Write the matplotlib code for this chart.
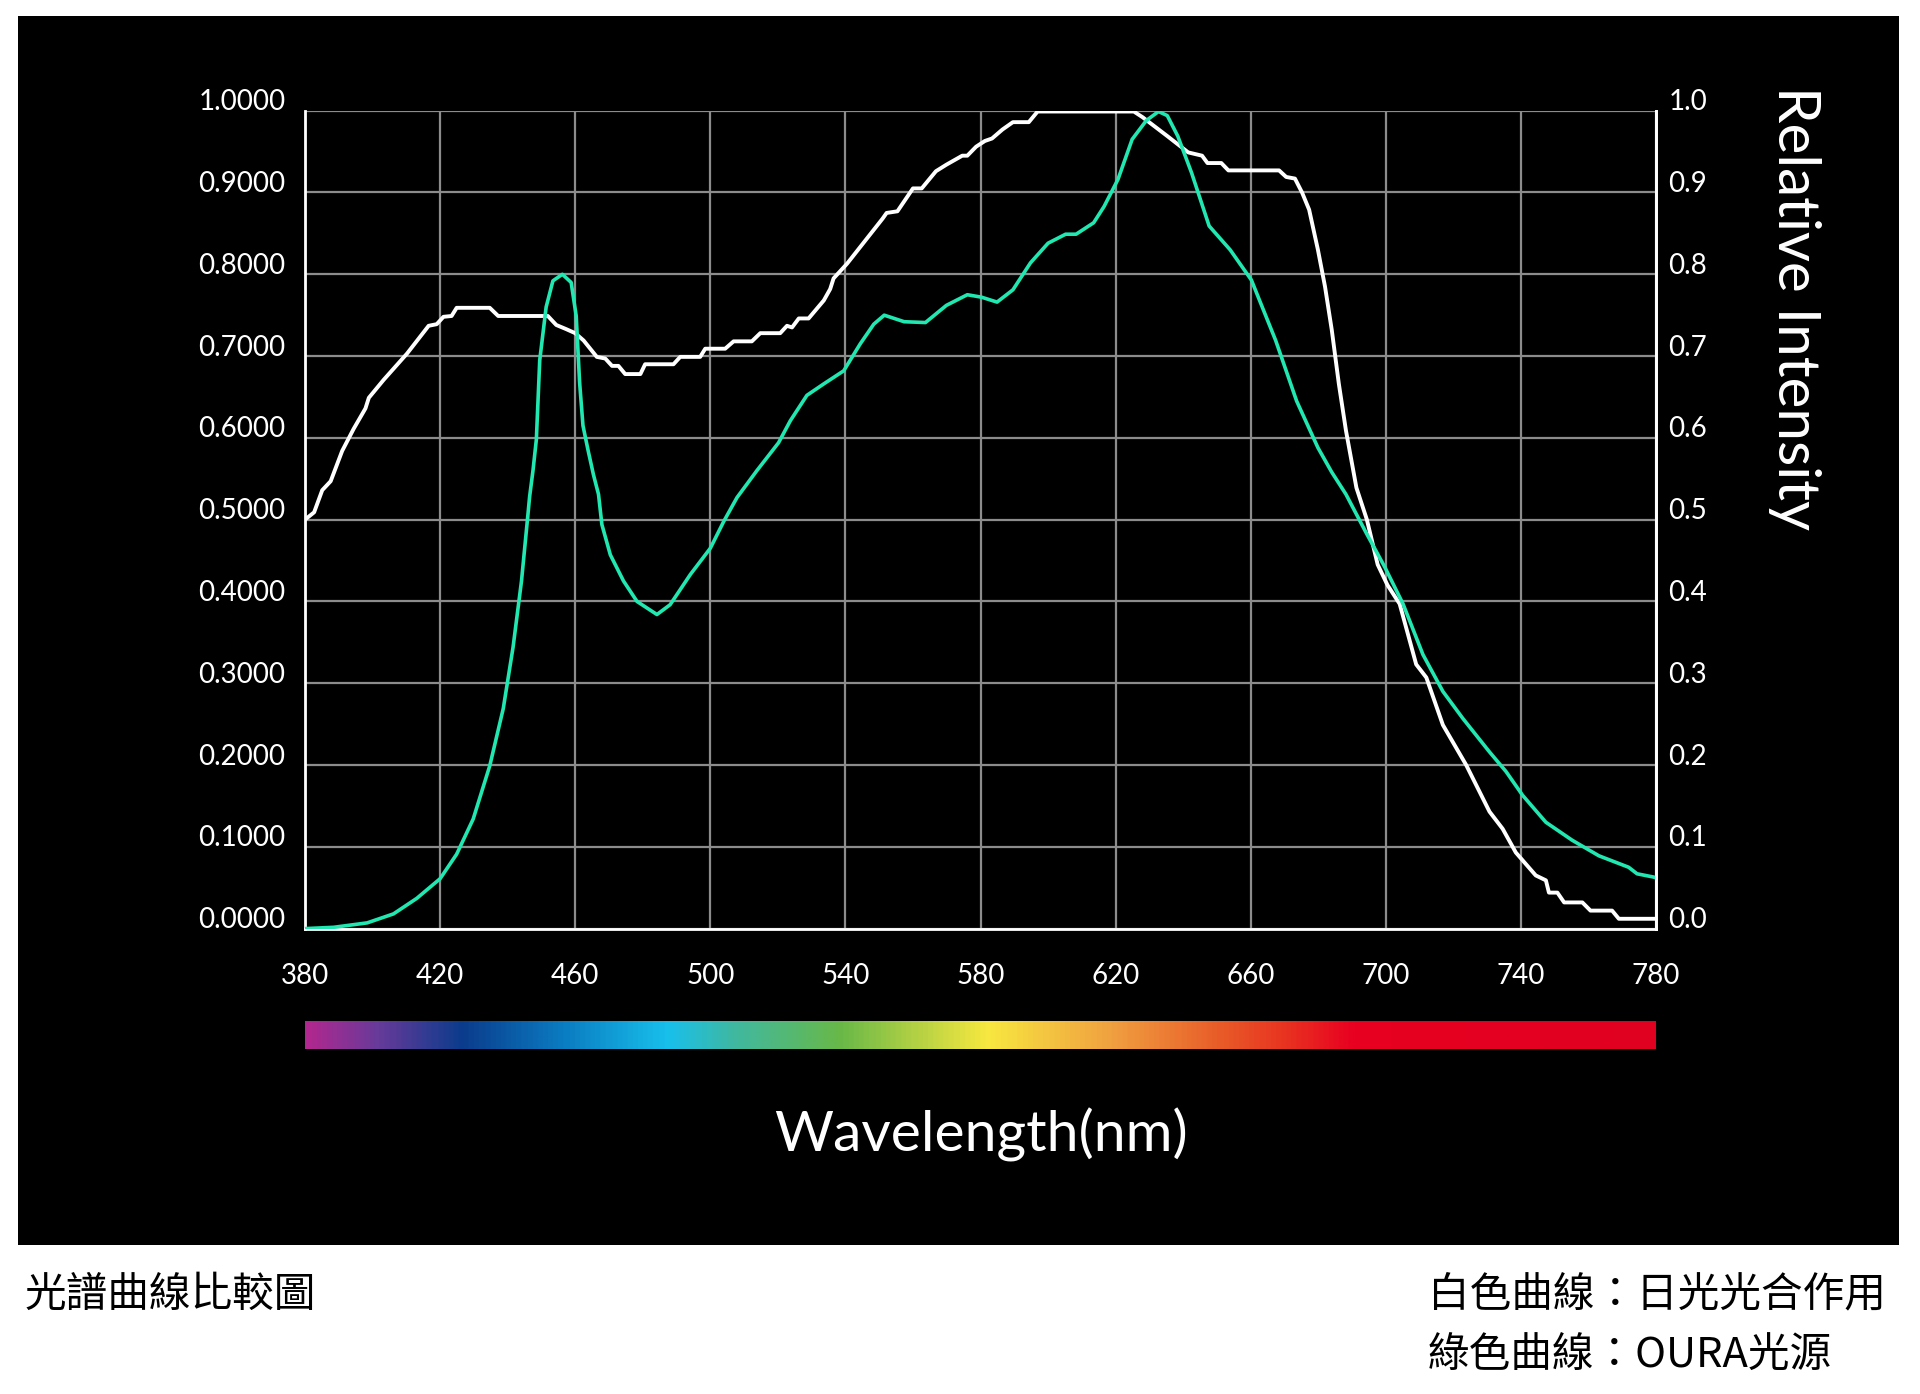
import matplotlib.pyplot as plt
import matplotlib.transforms as mtransforms
import numpy as np
from matplotlib.colors import LinearSegmentedColormap
from matplotlib.patches import Rectangle

plt.rcParams['font.family'] = ['Lato', 'Noto Sans CJK TC', 'DejaVu Sans']

# White curve: daylight photosynthesis action
white_nm = [380, 382.7, 385.1, 387.6, 391, 394.4, 397.9, 398.9, 403.3, 410.2,
            416.6, 419, 421, 423.4, 424.9, 434.7, 437.2, 451.9, 454.4, 457.3,
            460, 462.5, 466.4, 468.9, 470.9, 472.8, 474.8, 479.3, 480.7, 489.1,
            491.1, 497, 498.5, 504.4, 506.9, 512.3, 514.8, 520.7, 522.7, 524.2,
            526.2, 529.1, 533.6, 535.5, 536.5, 540.5, 551, 552.2, 555.4, 560,
            562.6, 566.8, 569.9, 574.6, 576.1, 578.7, 581.3, 583.4, 586.5, 589.6,
            594.3, 596.9, 625.4, 628, 635.3, 641.5, 645.6, 647.2, 651.3, 653.4,
            668.4, 670.5, 673.1, 675.2, 677.3, 679.9, 682, 684, 686.1, 688.2,
            691.3, 694.4, 697.6, 700.5, 704.1, 709, 712, 716.9, 723.8, 730.7,
            734.6, 738.5, 744.4, 747.4, 748.3, 750.8, 752.8, 758.2, 760.6, 767,
            769, 780]
white_val = [0.50, 0.509, 0.536, 0.547, 0.584, 0.611, 0.636, 0.649, 0.671, 0.703,
             0.737, 0.739, 0.748, 0.749, 0.759, 0.759, 0.749, 0.749, 0.738, 0.733,
             0.728, 0.719, 0.699, 0.697, 0.688, 0.688, 0.678, 0.678, 0.69, 0.69,
             0.699, 0.699, 0.709, 0.709, 0.718, 0.718, 0.728, 0.728, 0.737, 0.735,
             0.746, 0.746, 0.768, 0.782, 0.795, 0.813, 0.868, 0.875, 0.877, 0.905,
             0.905, 0.926, 0.934, 0.945, 0.945, 0.956, 0.963, 0.966, 0.977, 0.986,
             0.986, 0.999, 0.999, 0.992, 0.969, 0.949, 0.945, 0.936, 0.936, 0.927,
             0.927, 0.919, 0.917, 0.9, 0.879, 0.83, 0.785, 0.732, 0.666, 0.609,
             0.539, 0.50, 0.445, 0.42, 0.397, 0.323, 0.307, 0.249, 0.2, 0.143,
             0.122, 0.093, 0.065, 0.059, 0.044, 0.044, 0.032, 0.032, 0.022, 0.022,
             0.012, 0.012]

# Green curve: OURA light source
green_nm = [380, 388.5, 398.4, 406.2, 413.1, 420, 424.9, 429.8, 434.7, 438.7,
            441.6, 444.1, 446, 446.5, 447.5, 448.5, 449.5, 451.4, 453.4, 456.2,
            458.8, 460.3, 461.3, 462.3, 463.8, 465.4, 466.9, 467.9, 470.4, 474.3,
            478.3, 484.2, 488.1, 494.1, 500, 504, 507.9, 513.8, 520.2, 523.7,
            528.6, 533.6, 539.5, 544.4, 548.4, 551.5, 557.4, 563.7, 569.9, 576.1,
            580.3, 584.9, 589.6, 594.8, 600, 605.2, 608.3, 613.5, 616.6, 620.7,
            624.9, 629.1, 632.7, 635.3, 638.4, 642.5, 647.7, 653.9, 660.2, 667.4,
            673.6, 679.9, 684, 688.2, 694.3, 699.7, 705.1, 711, 716.9, 722.8,
            730.7, 735.6, 740.5, 747.4, 755.2, 763.1, 771.9, 774.4, 779.3, 780]
green_val = [0.0, 0.0016, 0.007, 0.018, 0.037, 0.061, 0.091, 0.134, 0.199, 0.269,
             0.344, 0.425, 0.506, 0.528, 0.56, 0.598, 0.695, 0.76, 0.792, 0.80,
             0.79, 0.749, 0.668, 0.615, 0.585, 0.555, 0.531, 0.494, 0.457, 0.425,
             0.40, 0.384, 0.396, 0.433, 0.465, 0.498, 0.527, 0.56, 0.594, 0.621,
             0.652, 0.666, 0.682, 0.715, 0.739, 0.75, 0.742, 0.741, 0.762, 0.775,
             0.772, 0.766, 0.781, 0.814, 0.838, 0.849, 0.849, 0.863, 0.883, 0.916,
             0.965, 0.988, 0.999, 0.994, 0.969, 0.924, 0.859, 0.83, 0.793, 0.719,
             0.645, 0.588, 0.558, 0.531, 0.483, 0.442, 0.397, 0.335, 0.29, 0.257,
             0.216, 0.192, 0.163, 0.13, 0.108, 0.089, 0.075, 0.067, 0.063, 0.062]

x_ticks = [380, 420, 460, 500, 540, 580, 620, 660, 700, 740, 780]
y_ticks = [0.0, 0.1, 0.2, 0.3, 0.4, 0.5, 0.6, 0.7, 0.8, 0.9, 1.0]
left_labels = ['{:.4f}'.format(v) for v in y_ticks]
right_labels = ['{:.1f}'.format(v) for v in y_ticks]

# spectrum bar colour stops
spectrum_nm = [380, 400, 426, 455, 487, 507, 538, 582, 619, 652, 672, 691, 780]
spectrum_colors = ['#b0288f', '#6a3a9a', '#0a3c8c', '#0a7ac0', '#18c0ec', '#40b8a0',
                   '#68b848', '#f8e840', '#f0a040', '#e85a28', '#e83020', '#e80020', '#e00020']

fig = plt.figure(figsize=(19.2, 13.94), dpi=100)
fig.patch.set_facecolor('white')

# black panel behind everything
fig.patches.append(Rectangle((18 / 1920, 1 - 1245 / 1394), (1899 - 18) / 1920, (1245 - 16) / 1394,
                             transform=fig.transFigure, facecolor='black', edgecolor='none',
                             zorder=-10))

ax = fig.add_axes([305 / 1920, 1 - 928.6 / 1394, (1656 - 305) / 1920, (928.6 - 110.7) / 1394])
ax.set_facecolor('black')
ax.plot(white_nm, white_val, color='white', lw=2.8, zorder=3,
        solid_joinstyle='round', solid_capstyle='round')
ax.plot(green_nm, green_val, color='#20e8b0', lw=2.6, zorder=4,
        solid_joinstyle='round', solid_capstyle='round')

ax.set_xlim(380, 780)
ax.set_ylim(0, 1)
ax.set_xticks(x_ticks)
ax.set_yticks(y_ticks)
ax.set_yticklabels(left_labels)
ax.grid(True, color='#8c8c8c', lw=1.6, zorder=1)
ax.tick_params(axis='x', length=0, pad=25, colors='white', labelsize=20)
ax.tick_params(axis='y', length=0, pad=14, colors='white', labelsize=20)
for side in ['left', 'bottom', 'right']:
    ax.spines[side].set_color('white')
    ax.spines[side].set_linewidth(2)
ax.spines['top'].set_visible(False)

ax2 = ax.twinx()
ax2.set_ylim(0, 1)
ax2.set_yticks(y_ticks)
ax2.set_yticklabels(right_labels)
ax2.tick_params(axis='y', length=0, pad=9, colors='white', labelsize=20)
for side in ['left', 'bottom', 'top']:
    ax2.spines[side].set_visible(False)
ax2.spines['right'].set_color('white')
ax2.spines['right'].set_linewidth(2)

# y labels sit a little above their gridlines
lift = mtransforms.ScaledTranslation(0, 0.11, fig.dpi_scale_trans)
for lab in ax.get_yticklabels() + ax2.get_yticklabels():
    lab.set_transform(lab.get_transform() + lift)

# spectrum colour bar
cax = fig.add_axes([305 / 1920, 1 - 1049 / 1394, (1656 - 305) / 1920, 28 / 1394])
stops = [((n - 380) / 400, c) for n, c in zip(spectrum_nm, spectrum_colors)]
cmap = LinearSegmentedColormap.from_list('spectrum', stops)
cax.imshow(np.linspace(380, 780, 800).reshape(1, -1), cmap=cmap, aspect='auto',
           extent=[380, 780, 0, 1])
cax.set_axis_off()

fig.text(981 / 1920, 1 - 1135 / 1394, 'Wavelength(nm)', color='white', fontsize=41,
         ha='center', va='center')
fig.text(1795 / 1920, 1 - 308 / 1394, 'Relative Intensity', color='white', fontsize=42,
         rotation=-90, ha='center', va='center')

fig.text(25 / 1920, 1 - 1295 / 1394, '光譜曲線比較圖', color='black', fontsize=30,
         ha='left', va='center', family=['Noto Sans CJK TC', 'DejaVu Sans'])
fig.text(1428 / 1920, 1 - 1295 / 1394, '白色曲線：日光光合作用', color='black', fontsize=30,
         ha='left', va='center', family=['Noto Sans CJK TC', 'DejaVu Sans'])
fig.text(1428 / 1920, 1 - 1355 / 1394, '綠色曲線：OURA光源', color='black', fontsize=30,
         ha='left', va='center', family=['Noto Sans CJK TC', 'DejaVu Sans'])

fig.savefig('out.png', dpi=100, facecolor='white')
